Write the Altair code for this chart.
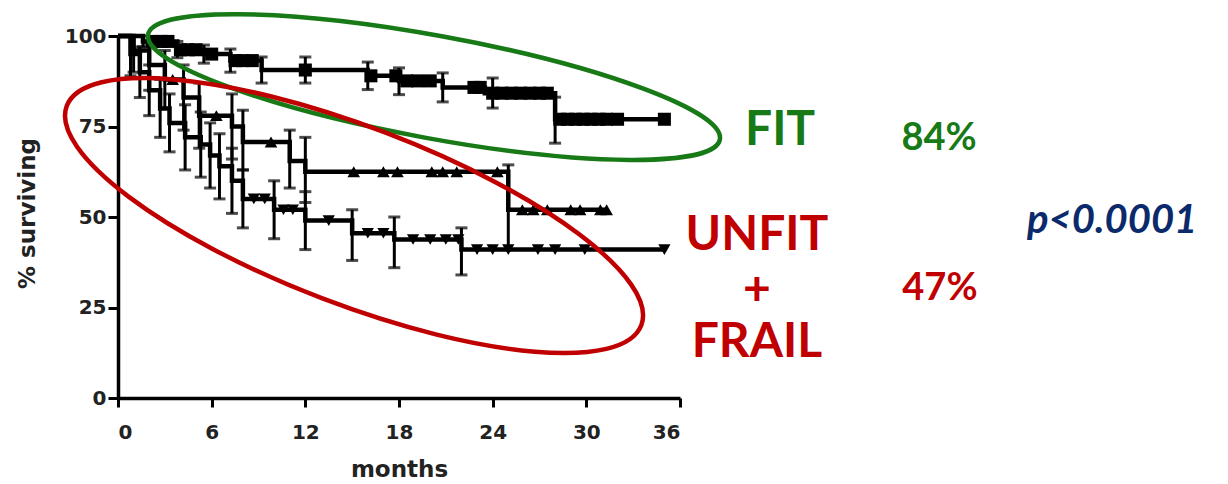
import altair as alt
import pandas as pd

# ---------------- data ----------------
X_TICKS = [0, 6, 12, 18, 24, 30, 36]
Y_TICKS = [0, 25, 50, 75, 100]

# FIT (squares)
FIT_T = [0, 1.6, 3.8, 5.5, 7.2, 9.2, 16.0, 18.0, 20.8, 23.5, 28.0]
FIT_S = [100, 98.5, 96.2, 95, 93.2, 90.6, 89.0, 87.6, 85.8, 84.2, 77.0]
FIT_END = 35.0
FIT_ERR_T = [1.6, 3.8, 5.5, 7.2, 9.2, 12.0, 16.0, 18.0, 20.8, 24.0, 28.0]
FIT_ERR_LO = [97, 94, 92.5, 90, 87, 87, 85.2, 83.8, 81.8, 80.1, 70.4]
FIT_ERR_HI = [100, 98.5, 97.5, 96.4, 94.2, 94.2, 92.8, 91.2, 89.8, 88.4, 83.1]
FIT_CENS = [2.2, 2.8, 3.2, 4.0, 4.5, 5.0, 6.0, 7.5, 8.0, 8.6, 12.0, 16.2, 17.8,
            18.5, 19.2, 20.0, 22.8, 23.2, 24.0, 24.6, 25.2, 25.8, 26.4, 27.0,
            27.5, 28.3, 28.8, 29.3, 29.8, 30.3, 30.8, 31.3, 32.0, 35.0]

# UNFIT (triangles up)
UNFIT_T = [0, 1.0, 2.0, 3.0, 4.2, 5.2, 7.3, 8.0, 11.0, 12.0, 25.0]
UNFIT_S = [100, 96, 92, 88, 83, 78, 75, 70.7, 65.5, 62.5, 52.0]
UNFIT_END = 31.3
UNFIT_ERR_T = [1.0, 2.0, 3.0, 4.2, 5.2, 7.3, 8.0, 11.0, 12.0, 25.0]
UNFIT_ERR_LO = [90, 85, 80, 74, 69, 66, 63, 58, 54, 41]
UNFIT_ERR_HI = [100, 98, 96, 92, 87, 84, 79.5, 74, 72, 64.4]
UNFIT_CENS = [3.5, 6.3, 9.8, 15.1, 17.0, 17.9, 20.1, 20.8, 21.7, 24.3,
              25.9, 26.6, 27.5, 29.0, 29.6, 30.9, 31.3]

# FRAIL (triangles down)
FRAIL_T = [0, 0.8, 1.4, 2.0, 2.7, 3.3, 4.3, 5.3, 5.9, 6.5, 7.3, 8.0, 10.0,
           12.0, 15.0, 17.7, 22.0]
FRAIL_S = [100, 95, 90, 85, 80, 76, 72, 70, 67, 64, 60, 55, 52, 49, 45.5,
           43.8, 41.0]
FRAIL_END = 35.0
FRAIL_ERR_T = [0.8, 1.4, 2.0, 2.7, 3.3, 4.3, 5.3, 5.9, 6.5, 7.3, 8.0, 10.0,
               12.0, 15.0, 17.7, 22.0]
FRAIL_ERR_LO = [89, 83, 78, 72, 68, 63, 61, 58, 55, 51, 47, 44, 41, 38, 36, 34]
FRAIL_ERR_HI = [100, 97, 92, 88, 84, 81, 79, 76, 73, 69, 63, 60, 57, 52, 50, 47]
FRAIL_CENS = [8.7, 9.4, 10.6, 11.2, 13.5, 16.0, 17.0, 18.9, 20.0, 21.0, 21.8,
              23.0, 24.0, 25.0, 26.9, 28.0, 29.9, 35.0]

# annotations
ELLIPSE_NAMES = ["fit", "unfit"]
ELLIPSE_CX = [20.24, 15.12]   # months
ELLIPSE_CY = [85.9, 50.4]     # % surviving

GREEN = "#177a17"
RED = "#c00000"
NAVY = "#0b2a6b"


# ---------------- tables ----------------
def surv_at(ts, ss, t):
    v = ss[0]
    for a, b in zip(ts, ss):
        if a <= t:
            v = b
    return v


groups = [
    ("FIT", FIT_T, FIT_S, FIT_END, FIT_ERR_T, FIT_ERR_LO, FIT_ERR_HI, FIT_CENS),
    ("UNFIT", UNFIT_T, UNFIT_S, UNFIT_END, UNFIT_ERR_T, UNFIT_ERR_LO, UNFIT_ERR_HI, UNFIT_CENS),
    ("FRAIL", FRAIL_T, FRAIL_S, FRAIL_END, FRAIL_ERR_T, FRAIL_ERR_LO, FRAIL_ERR_HI, FRAIL_CENS),
]

step_rows, err_rows, cens_rows = [], [], []
for name, ts, ss, end, et, elo, ehi, cens in groups:
    for a, b in zip(ts, ss):
        step_rows.append({"group": name, "t": a, "s": b})
    step_rows.append({"group": name, "t": end, "s": ss[-1]})
    for a, lo, hi in zip(et, elo, ehi):
        err_rows.append({"group": name, "t": a, "lo": lo, "hi": hi})
    for c in cens:
        cens_rows.append({"group": name, "t": c, "s": surv_at(ts, ss, c)})

steps = pd.DataFrame(step_rows)
errs = pd.DataFrame(err_rows)
cens = pd.DataFrame(cens_rows)

xscale = alt.Scale(domain=[0, 36], nice=False, zero=True)
yscale = alt.Scale(domain=[0, 100], nice=False)

x_axis = alt.Axis(
    values=X_TICKS, title="months", grid=False,
    labelFont="DejaVu Sans", labelFontSize=20, labelFontWeight="bold",
    labelColor="#222222", labelPadding=15,
    titleFont="DejaVu Sans", titleFontSize=23, titleFontWeight="bold",
    titleColor="#222222", titleBaseline="alphabetic", titleY=78,
    domainColor="black", domainWidth=3.5, tickColor="black", tickWidth=3,
    tickSize=9,
)
y_axis = alt.Axis(
    values=Y_TICKS, title="% surviving", grid=False,
    labelFont="DejaVu Sans", labelFontSize=20, labelFontWeight="bold",
    labelColor="#222222", labelPadding=2,
    titleFont="DejaVu Sans", titleFontSize=23, titleFontWeight="bold",
    titleColor="#222222", titleAngle=270, titleBaseline="middle",
    titleAlign="center", titleX=-91, titleY=177,
    domainColor="black", domainWidth=3.5, tickColor="black", tickWidth=3,
    tickSize=10,
)

base_err = alt.Chart(errs)
err_rules = base_err.mark_rule(color="black", strokeWidth=3).encode(
    x=alt.X("t:Q", scale=xscale, axis=x_axis),
    y=alt.Y("lo:Q", scale=yscale, axis=y_axis),
    y2="hi:Q",
)
cap_lo = base_err.mark_tick(color="black", orient="horizontal", size=12,
                            thickness=3).encode(
    x=alt.X("t:Q", scale=xscale), y=alt.Y("lo:Q", scale=yscale))
cap_hi = base_err.mark_tick(color="black", orient="horizontal", size=12,
                            thickness=3).encode(
    x=alt.X("t:Q", scale=xscale), y=alt.Y("hi:Q", scale=yscale))

lines = alt.Chart(steps).mark_line(
    interpolate="step-after", color="black", strokeWidth=4.5
).encode(
    x=alt.X("t:Q", scale=xscale),
    y=alt.Y("s:Q", scale=yscale),
    detail="group:N",
)

points = alt.Chart(cens).mark_point(filled=True, opacity=1, color="black").encode(
    x=alt.X("t:Q", scale=xscale),
    y=alt.Y("s:Q", scale=yscale),
    shape=alt.Shape("group:N", legend=None,
                    scale=alt.Scale(domain=["FIT", "UNFIT", "FRAIL"],
                                    range=["square", "triangle-up", "triangle-down"])),
    size=alt.Size("group:N", legend=None,
                  scale=alt.Scale(domain=["FIT", "UNFIT", "FRAIL"],
                                  range=[170, 150, 150])),
)


def ellipse_path(r):
    k = 0.5523
    return (f"M -1 0 C -1 {-k*r:.4f} {-k:.4f} {-r:.4f} 0 {-r:.4f} "
            f"C {k:.4f} {-r:.4f} 1 {-k*r:.4f} 1 0 "
            f"C 1 {k*r:.4f} {k:.4f} {r:.4f} 0 {r:.4f} "
            f"C {-k:.4f} {r:.4f} -1 {k*r:.4f} -1 0 Z")


ell_df = pd.DataFrame({"name": ELLIPSE_NAMES, "cx": ELLIPSE_CX, "cy": ELLIPSE_CY})

green_ell = alt.Chart(ell_df[ell_df.name == "fit"]).mark_point(
    shape=ellipse_path(0.1768), size=338000, angle=10.4, filled=False,
    stroke=GREEN, strokeWidth=4.5, opacity=1,
).encode(x=alt.X("cx:Q", scale=xscale), y=alt.Y("cy:Q", scale=yscale))

red_ell = alt.Chart(ell_df[ell_df.name == "unfit"]).mark_point(
    shape=ellipse_path(0.2885), size=378200, angle=20.9, filled=False,
    stroke=RED, strokeWidth=4.5, opacity=1,
).encode(x=alt.X("cx:Q", scale=xscale), y=alt.Y("cy:Q", scale=yscale))


def label(text, mx, py, color, size, align="center", italic=False):
    df = pd.DataFrame({"t": [mx], "s": [py], "txt": [text]})
    return alt.Chart(df).mark_text(
        font="Lato", fontWeight="bold", fontSize=size, color=color,
        align=align, baseline="alphabetic",
        fontStyle="italic" if italic else "normal",
    ).encode(x=alt.X("t:Q", scale=xscale), y=alt.Y("s:Q", scale=yscale),
             text="txt:N")


texts = [
    label("FIT", 42.41, 69.9, GREEN, 48),
    label("84%", 52.59, 68.5, GREEN, 38),
    label("UNFIT", 40.93, 40.9, RED, 48),
    label("+", 40.93, 25.7, RED, 48),
    label("FRAIL", 40.93, 11.3, RED, 48),
    label("47%", 52.65, 27.1, RED, 38),
    label("p<0.0001", 58.23, 45.6, NAVY, 40, align="left", italic=True),
]

chart = alt.layer(
    err_rules, cap_lo, cap_hi, lines, points, green_ell, red_ell, *texts
).properties(
    width=562, height=362,
    autosize=alt.AutoSizeParams(type="none"),
    padding={"left": 118, "top": 36, "right": 548, "bottom": 86},
).configure(background="white").configure_view(strokeWidth=0, stroke="transparent")

chart.save("out.html", embed_options={"renderer": "svg", "actions": False})
